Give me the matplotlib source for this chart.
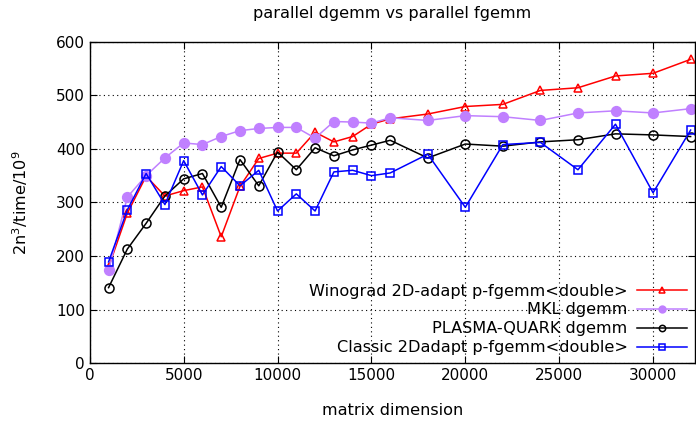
import matplotlib
matplotlib.use("Agg")
import matplotlib.pyplot as plt

sizes = [1000, 2000, 3000, 4000, 5000, 6000, 7000, 8000, 9000, 10000, 11000, 12000,
         13000, 14000, 15000, 16000, 18000, 20000, 22000, 24000, 26000, 28000, 30000, 32000]
winograd = [179, 280, 349, 312, 322, 329, 236, 330, 382, 392, 392, 431,
            413, 423, 446, 456, 465, 479, 483, 509, 514, 536, 541, 567]
mkl = [173, 310, 350, 383, 411, 408, 423, 434, 438, 440, 440, 420,
       451, 450, 448, 458, 453, 462, 460, 453, 467, 471, 467, 475]
plasma = [141, 213, 261, 312, 344, 354, 291, 380, 331, 394, 361, 402,
          387, 398, 407, 416, 383, 409, 405, 413, 417, 428, 426, 423]
classic = [189, 286, 354, 296, 378, 314, 367, 331, 360, 284, 316, 284,
           357, 360, 350, 355, 390, 291, 408, 412, 361, 446, 318, 435]

labels = ["Winograd 2D-adapt p-fgemm<double>", "MKL dgemm",
          "PLASMA-QUARK dgemm", "Classic 2Dadapt p-fgemm<double>"]

plt.rcParams['font.family'] = ['DejaVu Sans']
fig = plt.figure(figsize=(6.96, 4.24), dpi=100)
ax = fig.add_axes([0.129, 0.1434, 0.870, 0.7583])

ax.plot(sizes, winograd, color='#ff0000', lw=1.1, marker='^', ms=6, mfc='none', mew=1.1, label=labels[0])
ax.plot(sizes, mkl, color='#c080ff', lw=1.1, marker='o', ms=7, mfc='#c080ff', mew=1.1, label=labels[1])
ax.plot(sizes, plasma, color='#000000', lw=1.1, marker='o', ms=6.5, mfc='none', mew=1.1, label=labels[2])
ax.plot(sizes, classic, color='#0000ff', lw=1.1, marker='s', ms=6, mfc='none', mew=1.1, label=labels[3])

ax.set_xlim(0, 32250)
ax.set_ylim(0, 600)
ax.set_xticks(range(0, 30001, 5000))
ax.set_yticks(range(0, 601, 100))
ax.grid(True, color='black', linestyle=(0, (1, 3)), linewidth=0.8)
ax.tick_params(direction='in', top=True, right=True, labelsize=11, length=5)
for s in ax.spines.values():
    s.set_linewidth(1.0)

ax.set_title("parallel dgemm vs parallel fgemm", fontsize=11.6, pad=17)
ax.set_xlabel("matrix dimension", fontsize=11.6, labelpad=14)
ax.set_ylabel("2n$^3$/time/10$^9$", fontsize=11.6, labelpad=19)

leg = ax.legend(loc='lower right', frameon=False, markerfirst=False, fontsize=11.6,
                handlelength=3.1, borderaxespad=0.1, labelspacing=0.24, handletextpad=0.6,
                markerscale=0.7)
for t in leg.get_texts():
    t.set_ha('right')
leg._legend_box.align = 'right'

fig.savefig("out.png", dpi=100)
